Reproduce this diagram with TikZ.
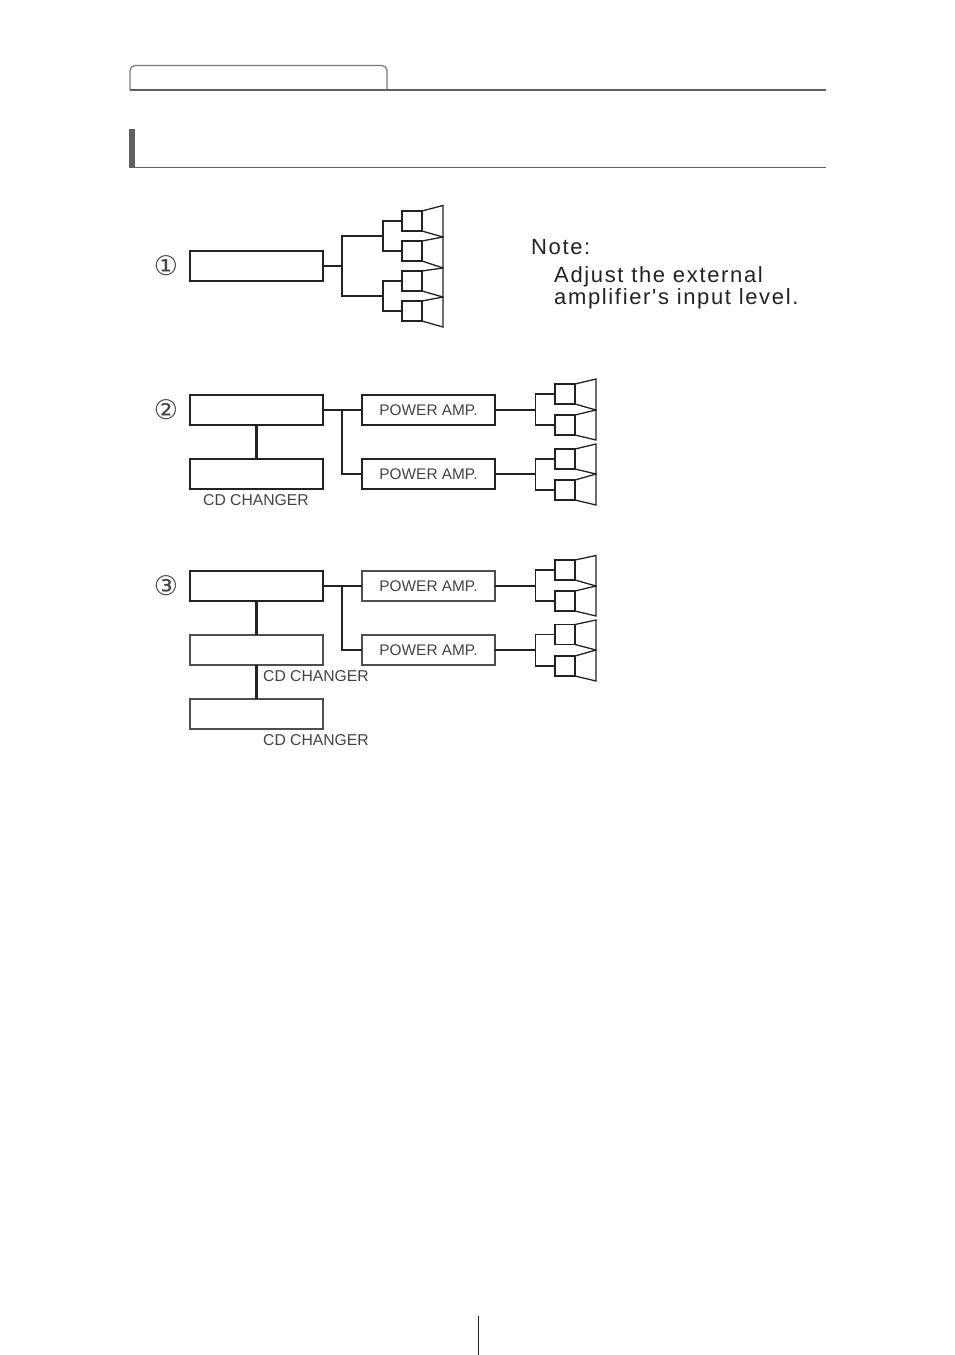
\documentclass[tikz,border=0pt]{standalone}
\usepackage{fontspec}
\setmainfont{Liberation Sans}
\newfontfamily\symfont{DejaVu Sans}
\newfontfamily\notefont[LetterSpace=7.5]{Liberation Sans}
\definecolor{ink}{HTML}{222222}
\definecolor{rule}{HTML}{606060}
\tikzset{
  box/.style={draw=ink,line width=1.5pt,rectangle,minimum width=133pt,minimum height=30pt,inner sep=0pt,outer sep=0pt,anchor=north west,text=ink!85!white,font=\fontsize{15.4}{18}\selectfont},
  lightbox/.style={box,draw=ink!80!white,line width=1.3pt},
  spkbox/.style={draw=ink,line width=1.3pt,rectangle,minimum width=20pt,minimum height=20pt,inner sep=0pt,outer sep=0pt},
  wire/.style={draw=ink,line width=1.4pt},
  stem/.style={draw=ink,line width=2.2pt},
  conepath/.style={draw=ink,line width=1.3pt,line join=miter},
  caplabel/.style={inner sep=0pt,text=ink!85!white,font=\fontsize{15.7}{18}\selectfont},
  numeral/.style={inner sep=0pt,text=ink!85!white,font=\symfont\fontsize{27}{30}\selectfont},
  notetext/.style={inner sep=0pt,anchor=base west,text=ink,font=\notefont\fontsize{22}{24}\selectfont}
}
% name, left x, centre y, cone top y, cone bottom y
\newcommand{\spk}[5]{%
  \node[spkbox] (#1) at (#2+10,#3) {};
  \coordinate (#1t) at (#2+41,#4);
  \coordinate (#1b) at (#2+41,#5);
  \draw[conepath] (#1.north east) -- (#1t) -- (#1b) -- (#1.south east);
}
\begin{document}
\begin{tikzpicture}[x=1pt,y=-1pt]
\useasboundingbox (0,0) rectangle (954,1355);
% header
\coordinate (tabA) at (130,90);
\coordinate (tabB) at (387,90);
\coordinate (ruleEnd) at (826,90);
\draw[rule!85!white,line width=1.2pt,rounded corners=5pt] (tabA) -- (130,65.5) -- (387,65.5) -- (tabB);
\draw[rule,line width=1.8pt] (tabA) -- (ruleEnd);
\fill[rule] (129,129) rectangle (135,168);
\coordinate (secA) at (135,167.5);
\coordinate (secB) at (826,167.5);
\draw[rule,line width=1pt] (secA) -- (secB);
% page marker
\coordinate (pgA) at (478,1316);
\coordinate (pgB) at (478,1355);
\draw[ink,line width=1pt] (pgA) -- (pgB);

% diagram 1
\node[numeral] (n1) at (166,266) {①};
\node[box] (m1) at (190,251) {};
\spk{a}{402}{221}{205.5}{237}
\spk{b}{402}{251}{237}{268}
\spk{c}{402}{281}{268}{297}
\spk{d}{402}{311}{297}{327}
\coordinate (j1) at (342,266);
\coordinate (j1a) at (383,236);
\coordinate (j1b) at (383,296);
\draw[wire] (m1.east) -- (j1);
\draw[wire] (j1a) -| (j1) |- (j1b);
\draw[wire] (a.west) -| (j1a) |- (b.west);
\draw[wire] (c.west) -| (j1b) |- (d.west);
\node[notetext] (note0) at (531,254) {Note:};
\node[notetext] (note1) at (554,282) {Adjust the external};
\node[notetext] (note2) at (554,304) {amplifier's input level.};

% diagram 2
\node[numeral] (n2) at (166,410) {②};
\node[box] (m2) at (190,395) {};
\node[box] (c2) at (190,459) {};
\node[caplabel] (l2) at (256,500) {CD CHANGER};
\draw[stem] (m2) -- (c2);
\node[box] (p2a) at (362,395) {POWER AMP.};
\node[box] (p2b) at (362,459) {POWER AMP.};
\coordinate (j2) at (342,410);
\draw[wire] (m2.east) -- (p2a.west);
\draw[wire] (j2) |- (p2b.west);
\spk{e}{555}{394}{379}{410}
\spk{f}{555}{425}{410}{440}
\spk{g}{555}{459}{444}{474}
\spk{h}{555}{490}{474}{505}
\coordinate (j2a) at (535.5,410);
\coordinate (j2b) at (535.5,474);
\draw[wire] (p2a.east) -- (j2a);
\draw[wire] (p2b.east) -- (j2b);
\draw[wire] (e.west) -| (j2a) |- (f.west);
\draw[wire] (g.west) -| (j2b) |- (h.west);

% diagram 3
\node[numeral] (n3) at (166,586) {③};
\node[box] (m3) at (190,571) {};
\node[lightbox] (c3a) at (190,635) {};
\node[lightbox] (c3b) at (190,699) {};
\node[caplabel] (l3a) at (316,676) {CD CHANGER};
\node[caplabel] (l3b) at (316,740) {CD CHANGER};
\draw[stem] (m3) -- (c3a);
\draw[stem] (c3a) -- (c3b);
\node[lightbox] (p3a) at (362,571) {POWER AMP.};
\node[lightbox] (p3b) at (362,635) {POWER AMP.};
\coordinate (j3) at (342,586);
\draw[wire] (m3.east) -- (p3a.west);
\draw[wire] (j3) |- (p3b.west);
\spk{i}{555}{570}{555.5}{586}
\spk{k}{555}{601}{586}{616}
\spk{l}{555}{634.5}{620}{650}
\spk{o}{555}{666}{650}{681}
\coordinate (j3a) at (535.5,586);
\coordinate (j3b) at (535.5,650);
\draw[wire] (p3a.east) -- (j3a);
\draw[wire] (p3b.east) -- (j3b);
\draw[wire] (i.west) -| (j3a) |- (k.west);
\draw[wire] (l.west) -| (j3b) |- (o.west);
\end{tikzpicture}
\end{document}
